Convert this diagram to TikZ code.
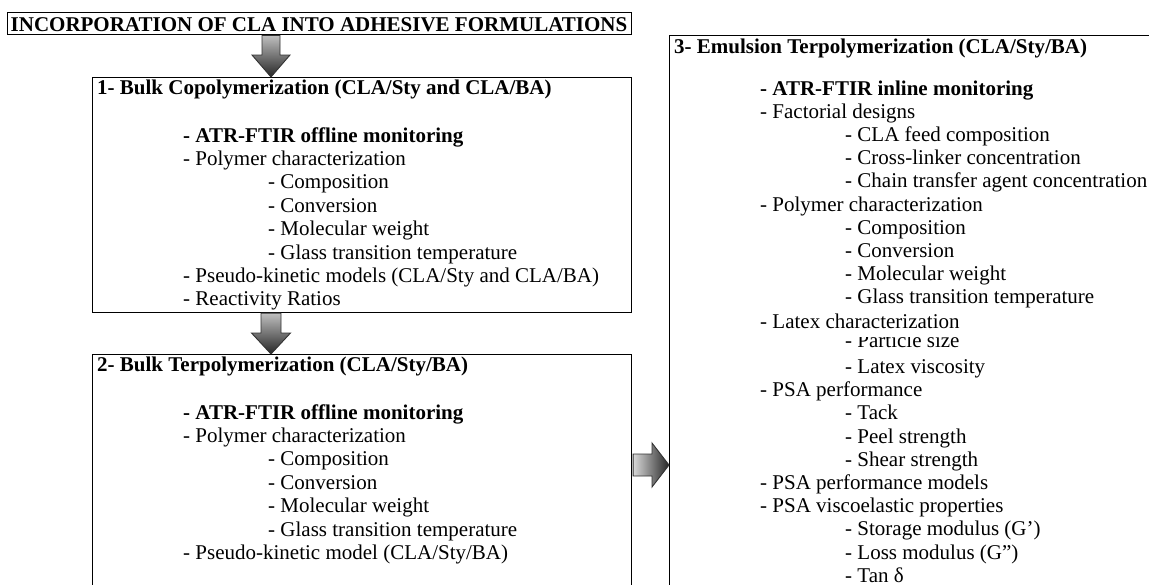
\documentclass[tikz,border=0pt]{standalone}
\usepackage{fontspec}
\setmainfont{Liberation Serif}
\usetikzlibrary{calc}
\newcommand{\fatdown}[5]{%
  \shadedraw[fatv] ($(#1)+(-#3,0)$) -- ($(#2)+(-#3,-#5)$) -- ($(#2)+(-#4,-#5)$) -- (#2)
    -- ($(#2)+(#4,-#5)$) -- ($(#2)+(#3,-#5)$) -- ($(#1)+(#3,0)$) -- cycle;}
\newcommand{\fatright}[5]{%
  \shadedraw[fath] ($(#1)+(0,-#3)$) -- ($(#2)+(-#5,-#3)$) -- ($(#2)+(-#5,-#4)$) -- (#2)
    -- ($(#2)+(-#5,#4)$) -- ($(#2)+(-#5,#3)$) -- ($(#1)+(0,#3)$) -- cycle;}
\begin{document}
\begin{tikzpicture}[x=1pt,y=-1pt,
  box/.style={draw=black, line width=1.1pt, inner sep=0pt, anchor=north west},
  txt/.style={anchor=base west, inner sep=0pt, font=\fontsize{21}{23.4}\selectfont},
  btxt/.style={anchor=base west, inner sep=0pt, font=\fontsize{21}{23.4}\selectfont\bfseries},
  fat/.style={draw=black!80, line width=0.9pt, line join=miter},
  fatv/.style={fat, top color=black!25, bottom color=black!85},
  fath/.style={fat, left color=black!15, right color=black!85}]
\useasboundingbox (0,0) rectangle (1149,584);
\clip (0,0) rectangle (1149,584);

% boxes
\node[box, line width=1.3pt, minimum width=624, minimum height=22] (title) at (7,12) {};
\node[box, minimum width=539, minimum height=235] (b1) at (92,77) {};
\node[box, minimum width=539, minimum height=260] (b2) at (92,354) {};
\node[box, minimum width=500, minimum height=580] (b3) at (669,35) {};

% title
\node[btxt, anchor=base] (tt) at (319,31) {INCORPORATION OF CLA INTO ADHESIVE FORMULATIONS};

% box 1
\node[btxt] (t1h) at (97,94) {1- Bulk Copolymerization (CLA/Sty and CLA/BA)};
\node[btxt] (t1a) at (183,142) {- ATR-FTIR offline monitoring};
\node[txt] (t1b) at (183,165.4) {- Polymer characterization};
\node[txt] (t1c) at (268,188.8) {- Composition};
\node[txt] (t1d) at (268,212.2) {- Conversion};
\node[txt] (t1e) at (268,235.6) {- Molecular weight};
\node[txt] (t1f) at (268,259) {- Glass transition temperature};
\node[txt] (t1g) at (183,282.4) {- Pseudo-kinetic models (CLA/Sty and CLA/BA)};
\node[txt] (t1i) at (183,305.8) {- Reactivity Ratios};

% box 2
\node[btxt] (t2h) at (97,371) {2- Bulk Terpolymerization (CLA/Sty/BA)};
\node[btxt] (t2a) at (183,419) {- ATR-FTIR offline monitoring};
\node[txt] (t2b) at (183,442.4) {- Polymer characterization};
\node[txt] (t2c) at (268,465.8) {- Composition};
\node[txt] (t2d) at (268,489.2) {- Conversion};
\node[txt] (t2e) at (268,512.6) {- Molecular weight};
\node[txt] (t2f) at (268,536) {- Glass transition temperature};
\node[txt] (t2g) at (183,559.4) {- Pseudo-kinetic model (CLA/Sty/BA)};

% box 3
\node[btxt] (t3h) at (674,53) {3- Emulsion Terpolymerization (CLA/Sty/BA)};
\node[btxt] (t3a) at (760,95) {- ATR-FTIR inline monitoring};
\node[txt] (t3b) at (760,118.2) {- Factorial designs};
\node[txt] (t3c) at (845,141.4) {- CLA feed composition};
\node[txt] (t3d) at (845,164.6) {- Cross-linker concentration};
\node[txt] (t3e) at (845,187.8) {- Chain transfer agent concentration};
\node[txt] (t3f) at (760,211) {- Polymer characterization};
\node[txt] (t3g) at (845,234.2) {- Composition};
\node[txt] (t3i) at (845,257.4) {- Conversion};
\node[txt] (t3j) at (845,280.6) {- Molecular weight};
\node[txt] (t3k) at (845,303.8) {- Glass transition temperature};
\node[txt] (t3m) at (845,347) {- Particle size};
\fill[white] (840,331) rectangle (990,337);
\node[txt] (t3l) at (760,328) {- Latex characterization};
\node[txt] (t3n) at (845,373.4) {- Latex viscosity};
\node[txt] (t3o) at (760,396.6) {- PSA performance};
\node[txt] (t3p) at (845,419.8) {- Tack};
\node[txt] (t3q) at (845,443) {- Peel strength};
\node[txt] (t3r) at (845,466.2) {- Shear strength};
\node[txt] (t3s) at (760,489.4) {- PSA performance models};
\node[txt] (t3t) at (760,512.6) {- PSA viscoelastic properties};
\node[txt] (t3u) at (845,535.8) {- Storage modulus (G')};
\node[txt] (t3v) at (845,559) {- Loss modulus (G")};
\node[txt] (t3w) at (845,582.2) {- Tan δ};

% arrows
\coordinate (a1s) at ($(title.south west)+(264,0)$);
\coordinate (a1e) at (a1s |- b1.north);
\fatdown{a1s}{a1e}{9}{19}{22}
\coordinate (a2s) at ($(b1.south west)+(179,0)$);
\coordinate (a2e) at (a2s |- b2.north);
\fatdown{a2s}{a2e}{10}{19.5}{21}
\coordinate (a3s) at ($(b2.north east)+(1,111)$);
\coordinate (a3e) at (a3s -| b3.west);
\fatright{a3s}{a3e}{11}{22}{17}
\end{tikzpicture}
\end{document}
